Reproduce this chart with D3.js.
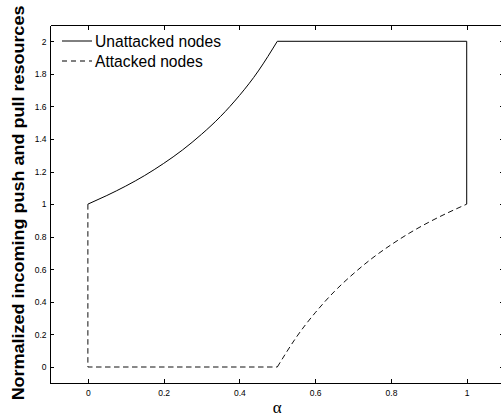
<!DOCTYPE html>
<html>
<head>
<meta charset="utf-8">
<script src="https://cdn.jsdelivr.net/npm/d3@7"></script>
<style>
  html, body { margin: 0; padding: 0; background: #fff; }
  svg { display: block; }
  .axis text { font-family: "Liberation Sans", Arial, sans-serif; font-size: 8.5px; fill: #000; }
  .axis path, .axis line { stroke: #000; stroke-width: 1; shape-rendering: crispEdges; }
</style>
</head>
<body>
<svg id="chart" width="501" height="420"></svg>
<script>
// Unattacked nodes: rises from 1 to 2 over [0, 0.5], stays at 2, then drops at alpha = 1
const unattackedAlpha = [0, 0.05, 0.1, 0.15, 0.2, 0.25, 0.3, 0.35, 0.4, 0.45, 0.5, 1.0, 1.0];
const unattackedValue = [1.000, 1.053, 1.111, 1.176, 1.250, 1.333, 1.429, 1.538, 1.667, 1.818, 2.000, 2.000, 1.000];

// Attacked nodes: drops to 0 at alpha = 0, flat until 0.5, then climbs back to 1
const attackedAlpha = [0, 0, 0.5, 0.55, 0.6, 0.65, 0.7, 0.75, 0.8, 0.85, 0.9, 0.95, 1.0];
const attackedValue = [1.000, 0.000, 0.000, 0.182, 0.333, 0.462, 0.571, 0.667, 0.750, 0.824, 0.889, 0.947, 1.000];

const xTicks = [0, 0.2, 0.4, 0.6, 0.8, 1];
const yTicks = [0, 0.2, 0.4, 0.6, 0.8, 1, 1.2, 1.4, 1.6, 1.8, 2];

const seriesNames = ["Unattacked nodes", "Attacked nodes"];
const xLabel = "\u03b1";
const yLabel = "Normalized incoming push and pull resources";

const svg = d3.select("#chart");

const plotLeft = 50, plotRight = 504.6, plotTop = 25, plotBottom = 383.3;

const x = d3.scaleLinear().domain([-0.1, 1.1]).range([plotLeft, plotRight]);
const y = d3.scaleLinear().domain([-0.1, 2.1]).range([plotBottom, plotTop]);

const fmt = d => String(d);

// Axes box with inward ticks on all four sides
svg.append("g").attr("class", "axis")
  .attr("transform", `translate(0,${plotBottom})`)
  .call(d3.axisBottom(x).tickValues(xTicks).tickFormat(fmt)
    .tickSizeInner(-4.5).tickSizeOuter(0).tickPadding(6.5));

svg.append("g").attr("class", "axis")
  .attr("transform", `translate(0,${plotTop})`)
  .call(d3.axisTop(x).tickValues(xTicks).tickFormat("")
    .tickSizeInner(-4.5).tickSizeOuter(0));

svg.append("g").attr("class", "axis")
  .attr("transform", `translate(${plotLeft},0)`)
  .call(d3.axisLeft(y).tickValues(yTicks).tickFormat(fmt)
    .tickSizeInner(-4).tickSizeOuter(0).tickPadding(3.5));

svg.append("g").attr("class", "axis")
  .attr("transform", `translate(${plotRight},0)`)
  .call(d3.axisRight(y).tickValues(yTicks).tickFormat("")
    .tickSizeInner(-4.5).tickSizeOuter(0));

// Data lines: curved stretches are splined, corners and steps stay straight
const straight = d3.line().x(d => x(d[0])).y(d => y(d[1]));
const smooth = d3.line().x(d => x(d[0])).y(d => y(d[1])).curve(d3.curveNatural);

function drawSeries(alphas, values, curveStart, curveEnd, style) {
  const pts = d3.zip(alphas, values);
  const pieces = [
    { data: pts.slice(0, curveStart + 1), gen: straight },
    { data: pts.slice(curveStart, curveEnd + 1), gen: smooth },
    { data: pts.slice(curveEnd), gen: straight }
  ].filter(p => p.data.length > 1);
  const d = pieces.map(p => p.gen(p.data)).join("");
  svg.append("path")
    .attr("d", d)
    .attr("fill", "none")
    .attr("stroke", style.color)
    .attr("stroke-width", 1)
    .attr("stroke-dasharray", style.dash);
}

drawSeries(unattackedAlpha, unattackedValue, 0, 10, { color: "#000", dash: null });
drawSeries(attackedAlpha, attackedValue, 2, 12, { color: "#111", dash: "5.5,3.5" });

// Legend (no frame)
const legend = svg.append("g");
const legendRows = [
  { name: seriesNames[0], dash: null, ly: 41, ty: 46.7 },
  { name: seriesNames[1], dash: "5,4", ly: 61, ty: 66.7 }
];
legendRows.forEach(r => {
  legend.append("line")
    .attr("x1", 62).attr("x2", 92).attr("y1", r.ly).attr("y2", r.ly)
    .attr("stroke", "#000").attr("stroke-width", 1)
    .attr("stroke-dasharray", r.dash);
  legend.append("text")
    .attr("transform", `translate(95,${r.ty}) scale(0.92,1)`)
    .attr("font-family", "'Liberation Sans', Arial, sans-serif")
    .attr("font-size", 17)
    .attr("fill", "#000")
    .text(r.name);
});

// Axis labels
svg.append("text")
  .attr("transform", `translate(${(plotLeft + plotRight) / 2},413)`)
  .attr("text-anchor", "middle")
  .attr("font-family", "'Liberation Serif', 'Times New Roman', serif")
  .attr("font-size", 17)
  .attr("fill", "#000")
  .text(xLabel);

svg.append("text")
  .attr("transform", "translate(24,203) rotate(-90) scale(1,0.92)")
  .attr("text-anchor", "middle")
  .attr("font-family", "'Liberation Sans', Arial, sans-serif")
  .attr("font-weight", "bold")
  .attr("font-size", 18)
  .attr("fill", "#000")
  .text(yLabel);
</script>
</body>
</html>
